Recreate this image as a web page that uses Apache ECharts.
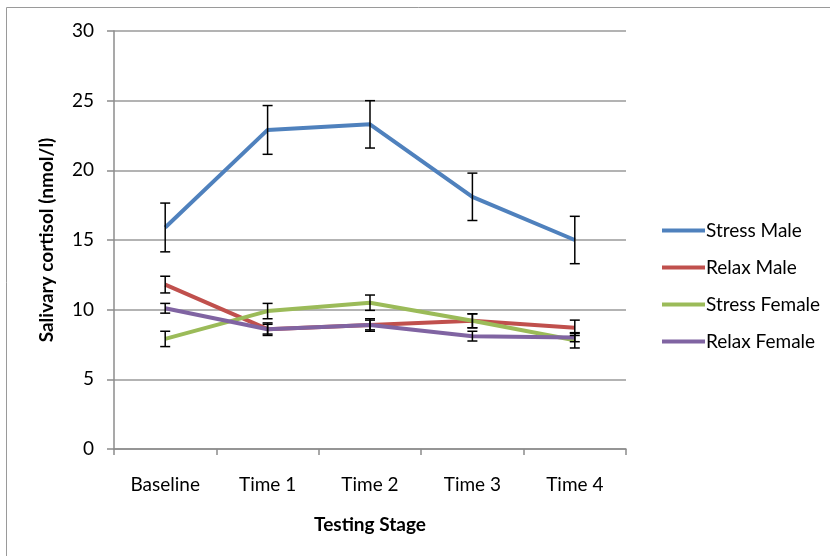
<!DOCTYPE html>
<html>
<head>
<meta charset="utf-8">
<script src="https://cdn.jsdelivr.net/npm/echarts@6/dist/echarts.min.js"></script>
<style>
  html, body { margin: 0; padding: 0; background: #fff; }
  #chart { width: 830px; height: 556px; }
</style>
</head>
<body>
<div id="chart"></div>
<script>
// Testing stages on the x axis
const stages = ['Baseline', 'Time 1', 'Time 2', 'Time 3', 'Time 4'];

// Mean salivary cortisol (nmol/l) per group
const stressMale   = [15.9, 22.9, 23.3, 18.1, 15.0];
const relaxMale    = [11.8, 8.6, 8.9, 9.2, 8.7];
const stressFemale = [7.9, 9.9, 10.5, 9.2, 7.8];
const relaxFemale  = [10.1, 8.6, 8.9, 8.1, 8.0];

// Error bar half-widths (nmol/l)
const stressMaleErr   = [1.75, 1.75, 1.7, 1.7, 1.7];
const relaxMaleErr    = [0.6, 0.45, 0.45, 0.5, 0.55];
const stressFemaleErr = [0.55, 0.55, 0.55, 0.5, 0.55];
const relaxFemaleErr  = [0.35, 0.35, 0.35, 0.35, 0.3];

const groups = [
  { name: 'Stress Male',   color: '#4F81BD', values: stressMale,   err: stressMaleErr },
  { name: 'Relax Male',    color: '#C0504D', values: relaxMale,    err: relaxMaleErr },
  { name: 'Stress Female', color: '#9BBB59', values: stressFemale, err: stressFemaleErr },
  { name: 'Relax Female',  color: '#8064A2', values: relaxFemale,  err: relaxFemaleErr }
];

const FONT = 'Lato, "Open Sans", sans-serif';

const chart = echarts.init(document.getElementById('chart'), null, { renderer: 'canvas' });

// Vertical whisker with caps, drawn from [category, low, high]
function renderErrorBar(params, api) {
  const x = api.value(0);
  const lo = api.coord([x, api.value(1)]);
  const hi = api.coord([x, api.value(2)]);
  const cap = 5;
  const style = { stroke: '#000', lineWidth: 1.5 };
  return {
    type: 'group',
    children: [
      { type: 'line', shape: { x1: hi[0], y1: hi[1], x2: lo[0], y2: lo[1] }, style },
      { type: 'line', shape: { x1: hi[0] - cap, y1: hi[1], x2: hi[0] + cap, y2: hi[1] }, style },
      { type: 'line', shape: { x1: lo[0] - cap, y1: lo[1], x2: lo[0] + cap, y2: lo[1] }, style }
    ]
  };
}

const lineSeries = groups.map(g => ({
  name: g.name,
  type: 'line',
  data: g.values,
  showSymbol: false,
  symbol: 'none',
  itemStyle: { color: g.color },
  lineStyle: { color: g.color, width: 4 },
  z: 3,
  animation: false
}));

const errorSeries = groups.map(g => ({
  name: g.name + ' error',
  type: 'custom',
  renderItem: renderErrorBar,
  data: g.values.map((v, i) => [i, v - g.err[i], v + g.err[i]]),
  encode: { x: 0, y: [1, 2] },
  z: 5,
  silent: true,
  animation: false
}));

chart.setOption({
  backgroundColor: '#fff',
  animation: false,
  graphic: [
    {
      type: 'rect',
      shape: { x: 6.5, y: 7.5, width: 900, height: 700 },
      style: { fill: 'none', stroke: '#9a9a9a', lineWidth: 1 },
      z: -1
    }
  ],
  grid: { left: 114, right: 204, top: 31, bottom: 107, containLabel: false },
  legend: {
    orient: 'vertical',
    left: 657,
    top: 216,
    itemWidth: 43,
    itemHeight: 4,
    itemGap: 18,
    icon: 'rect',
    data: groups.map(g => g.name),
    textStyle: { fontFamily: FONT, fontSize: 19, color: '#000', padding: [0, 0, 0, -4] }
  },
  xAxis: {
    type: 'category',
    data: stages,
    boundaryGap: true,
    name: 'Testing Stage',
    nameLocation: 'middle',
    nameGap: 66,
    nameTextStyle: { fontFamily: FONT, fontSize: 19, fontWeight: 'bold', color: '#000' },
    axisLine: { lineStyle: { color: '#8c8c8c', width: 1.5 } },
    axisTick: { show: true, length: 6, alignWithLabel: false, lineStyle: { color: '#8c8c8c', width: 1.5 } },
    axisLabel: { fontFamily: FONT, fontSize: 19, color: '#000', margin: 26 },
    splitLine: { show: false }
  },
  yAxis: {
    type: 'value',
    min: 0,
    max: 30,
    interval: 5,
    name: 'Salivary cortisol (nmol/l)',
    nameLocation: 'middle',
    nameGap: 58,
    nameRotate: 90,
    nameTextStyle: { fontFamily: FONT, fontSize: 19, fontWeight: 'bold', color: '#000' },
    axisLine: { show: true, lineStyle: { color: '#8c8c8c', width: 1.5 } },
    axisTick: { show: true, inside: false, length: 7, lineStyle: { color: '#8c8c8c', width: 1.5 } },
    axisLabel: { fontFamily: FONT, fontSize: 19, color: '#000', margin: 20 },
    splitLine: { show: true, lineStyle: { color: '#9a9a9a', width: 1.5 } }
  },
  series: lineSeries.concat(errorSeries)
});
</script>
</body>
</html>
